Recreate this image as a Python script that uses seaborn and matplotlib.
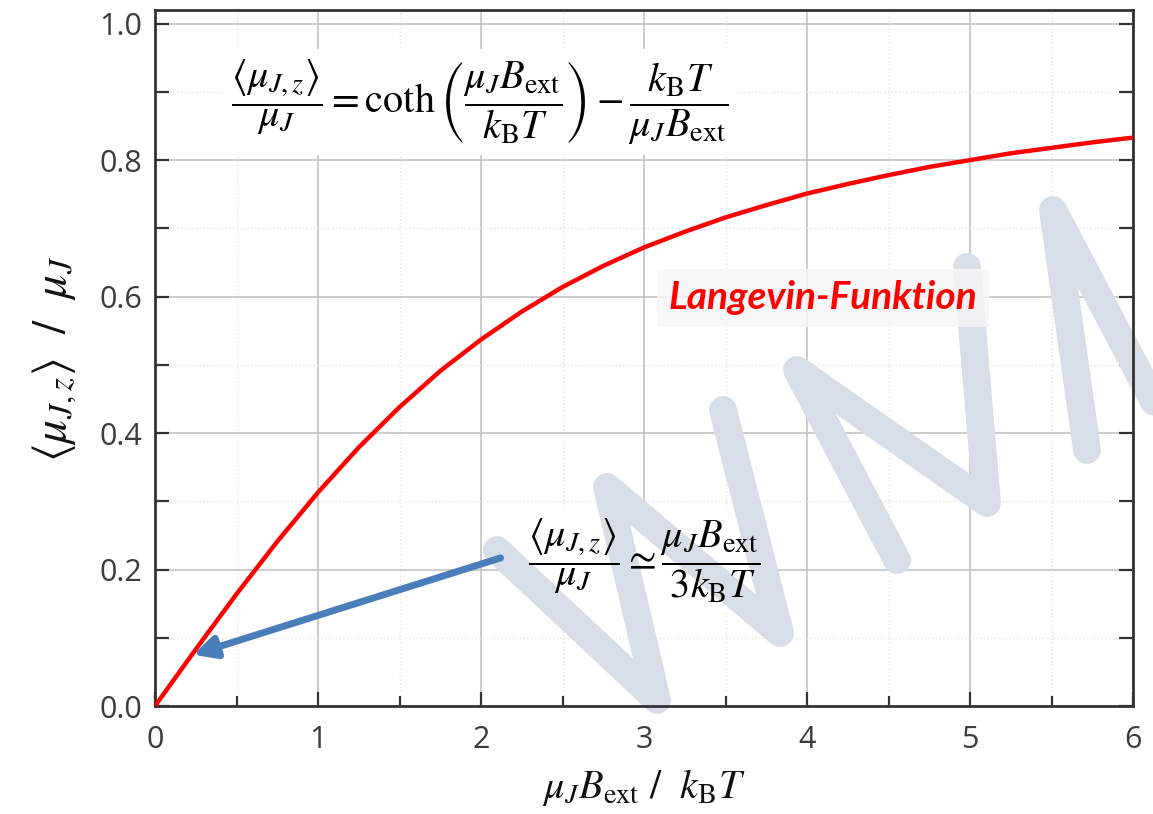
import numpy as np
import pandas as pd
import matplotlib
matplotlib.use("Agg")
import matplotlib.pyplot as plt
import seaborn as sns
from matplotlib.lines import Line2D
from matplotlib.ticker import MultipleLocator

# values
x_vals = [0.0, 0.25, 0.5, 0.75, 1.0, 1.25, 1.5, 1.75, 2.0, 2.25, 2.5, 2.75, 3.0,
          3.25, 3.5, 3.75, 4.0, 4.25, 4.5, 4.75, 5.0, 5.25, 5.5, 5.75, 6.0]
y_vals = [0.0, 0.083, 0.164, 0.241, 0.313, 0.379, 0.438, 0.491, 0.537, 0.578, 0.614, 0.645, 0.672,
          0.695, 0.716, 0.734, 0.751, 0.765, 0.778, 0.790, 0.800, 0.810, 0.818, 0.826, 0.833]
curve_label = "Langevin-Funktion"
x_label = r"$\mu_J B_{\mathrm{ext}}\ /\ \ k_{\mathrm{B}}T$"
y_label = r"$\left\langle\mu_{J,z}\right\rangle\ \ /\ \ \mu_J$"
formula_full = (r"$\dfrac{\langle\mu_{J,z}\rangle}{\mu_J} = \coth\left(\dfrac{\mu_J B_{\mathrm{ext}}}"
                r"{k_{\mathrm{B}}T}\right) - \dfrac{k_{\mathrm{B}}T}{\mu_J B_{\mathrm{ext}}}$")
formula_small = (r"$\dfrac{\langle\mu_{J,z}\rangle}{\mu_J} \simeq "
                 r"\dfrac{\mu_J B_{\mathrm{ext}}}{3k_{\mathrm{B}}T}$")

df = pd.DataFrame({"x": x_vals, "y": y_vals})

sns.set_theme(style="ticks")
plt.rcParams["font.family"] = ["Open Sans", "DejaVu Sans"]
plt.rcParams["mathtext.fontset"] = "stix"

W, H = 1153, 814
fig = plt.figure(figsize=(W / 100, H / 100), dpi=100)
ax = fig.add_axes([155 / W, 1 - 706 / H, 978 / W, 696 / H])

sns.lineplot(data=df, x="x", y="y", ax=ax, color="#ff0000", linewidth=3.2, zorder=5)

ax.set_xlim(0, 6)
ax.set_ylim(0, 1.02)
ax.xaxis.set_major_locator(MultipleLocator(1))
ax.xaxis.set_minor_locator(MultipleLocator(0.5))
ax.yaxis.set_major_locator(MultipleLocator(0.2))
ax.yaxis.set_minor_locator(MultipleLocator(0.1))
ax.yaxis.set_major_formatter(matplotlib.ticker.FormatStrFormatter("%.1f"))

ax.set_axisbelow(True)
ax.grid(which="major", color="#c4c4c4", linewidth=1.2, linestyle="-")
ax.grid(which="minor", color="#e4e4e4", linewidth=1.0, linestyle=":")

ax.tick_params(which="both", direction="in", right=True, top=False,
               colors="#333333", labelcolor="#3c3c3c", labelsize=22, width=1.6)
ax.tick_params(which="major", length=10, pad=9)
ax.tick_params(axis="x", which="major", pad=14)
ax.tick_params(which="minor", length=7)
ax.tick_params(axis="y", which="minor", length=10)
for s in ax.spines.values():
    s.set_color("#333333")
    s.set_linewidth(2)

ax.set_xlabel(x_label, fontsize=29, color="#111111")
ax.set_ylabel(y_label, fontsize=34, color="#111111")
ax.xaxis.set_label_coords(0.5, -0.088)
ax.yaxis.set_label_coords(-0.078, 0.5)

# watermark strokes (decoration)
strokes = [
    [(497, 550), (657, 700), (607, 487), (780, 633), (723, 410)],
    [(897, 560), (797, 370), (987, 503), (967, 267)],
    [(1087, 450), (1053, 210), (1190, 470)],
]
for st in strokes:
    xs = [p[0] / W for p in st]
    ys = [1 - p[1] / H for p in st]
    ln = Line2D(xs, ys, transform=fig.transFigure, color="#d8dee7", linewidth=20,
                solid_capstyle="round", solid_joinstyle="round", zorder=2, clip_on=False)
    ax.add_line(ln)

# formula boxes under the watermark, text above it
box = dict(boxstyle="square,pad=0.2", facecolor="white", edgecolor="none")
for txt, xx, yy, fs in [(formula_full, 1.99, 0.885, 29), (formula_small, 3.0, 0.214, 29)]:
    ax.text(xx, yy, txt, fontsize=fs, ha="center", va="center", color="white", bbox=box, zorder=1)
    ax.text(xx, yy, txt, fontsize=fs, ha="center", va="center", color="black", zorder=6)

ax.text(4.1, 0.598, curve_label, fontsize=28, fontweight="bold", fontstyle="italic",
        family=["Lato", "DejaVu Sans"], color="#ff0000", ha="center", va="center", zorder=6,
        bbox=dict(boxstyle="square,pad=0.3", facecolor="#f7f7f7", edgecolor="none", alpha=0.8))

ax.annotate("", xy=(0.233, 0.075), xytext=(2.12, 0.217),
            arrowprops=dict(arrowstyle="-|>,head_length=1.1,head_width=0.55", color="#4a7ebb",
                            lw=5, shrinkA=0, shrinkB=0), zorder=7)

fig.savefig("out.png", dpi=100)
